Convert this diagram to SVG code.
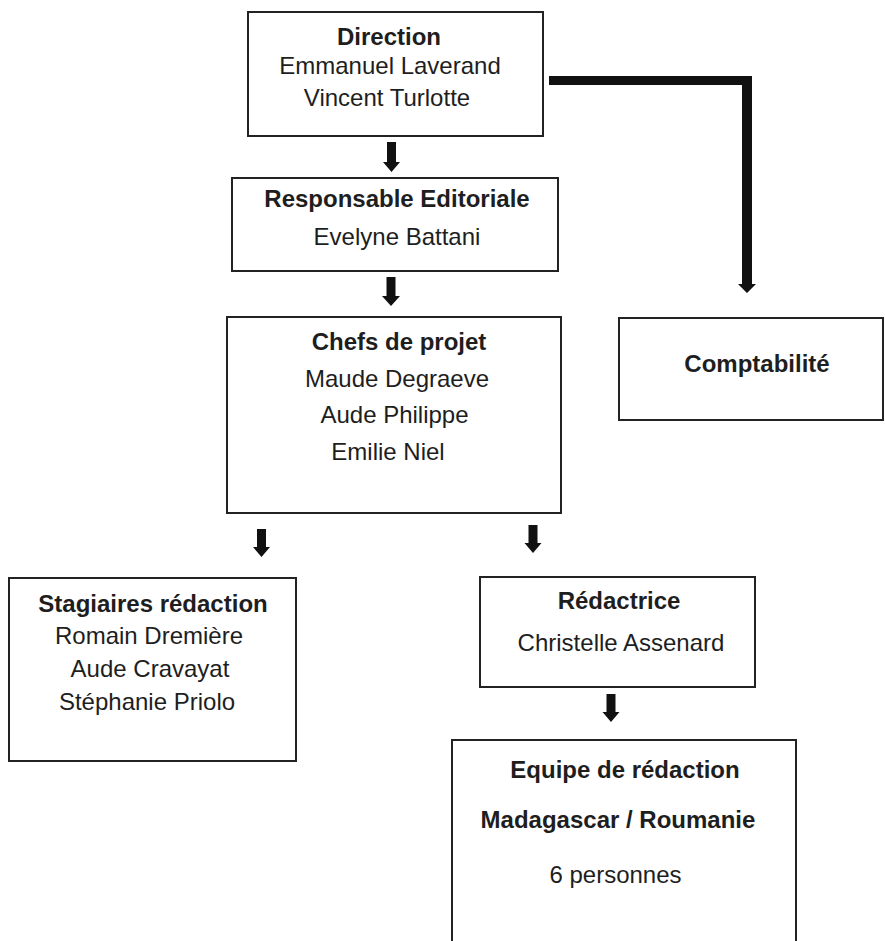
<svg xmlns="http://www.w3.org/2000/svg" width="885" height="941" viewBox="0 0 885 941">
<style>
.box{fill:#fff;stroke:#222;stroke-width:2}
text{font-family:"Liberation Sans",Arial,sans-serif;font-size:24px;fill:#1e1e1e;text-anchor:middle}
.b{font-weight:bold}
.arr{fill:#111}
</style>
<rect width="885" height="941" fill="#fff"/>
<g id="connectors">
<polygon class="arr" points="387,142 396,142 396,162 400,162 391.5,172 383,162 387,162"/>
<polygon class="arr" points="386.5,277 395.5,277 395.5,296 400,296 391,306 382,296 386.5,296"/>
<polygon class="arr" points="257,529 266,529 266,547 270,547 261.5,557 253,547 257,547"/>
<polygon class="arr" points="528.5,525 537.5,525 537.5,543 541.5,543 533,553 524.5,543 528.5,543"/>
<polygon class="arr" points="606.5,694 615.5,694 615.5,712 619.5,712 611,722 602.5,712 606.5,712"/>
<polygon class="arr" points="549,76 752,76 752,284 756,284 747,293 738,284 742,284 742,85 549,85"/>
</g>
<g id="direction">
<rect class="box" x="248" y="12" width="295" height="124"/>
<text class="b" x="389" y="45">Direction</text>
<text x="390" y="74">Emmanuel Laverand</text>
<text x="387" y="106">Vincent Turlotte</text>
</g>
<g id="responsable">
<rect class="box" x="232" y="178" width="326" height="93"/>
<text class="b" x="397" y="207">Responsable Editoriale</text>
<text x="397" y="245">Evelyne Battani</text>
</g>
<g id="chefs">
<rect class="box" x="227" y="317" width="334" height="196"/>
<text class="b" x="399" y="350">Chefs de projet</text>
<text x="397" y="387">Maude Degraeve</text>
<text x="394.5" y="423">Aude Philippe</text>
<text x="388" y="460">Emilie Niel</text>
</g>
<g id="comptabilite">
<rect class="box" x="619" y="318" width="264" height="102"/>
<text class="b" x="757" y="372">Comptabilité</text>
</g>
<g id="stagiaires">
<rect class="box" x="9" y="578" width="287" height="183"/>
<text class="b" x="153" y="612">Stagiaires rédaction</text>
<text x="149" y="644">Romain Dremière</text>
<text x="150" y="677">Aude Cravayat</text>
<text x="147" y="710">Stéphanie Priolo</text>
</g>
<g id="redactrice">
<rect class="box" x="480" y="577" width="275" height="110"/>
<text class="b" x="619" y="609">Rédactrice</text>
<text x="621" y="651">Christelle Assenard</text>
</g>
<g id="equipe">
<rect class="box" x="452" y="740" width="344" height="215"/>
<text class="b" x="625" y="778">Equipe de rédaction</text>
<text class="b" x="618" y="828">Madagascar / Roumanie</text>
<text x="615.5" y="883">6 personnes</text>
</g>
</svg>
